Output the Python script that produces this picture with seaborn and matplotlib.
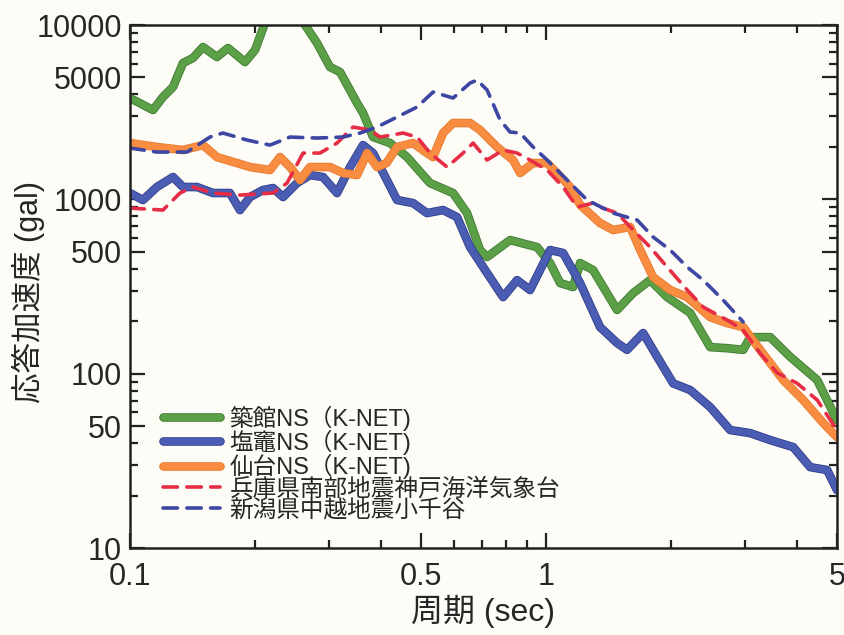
import numpy as np
import pandas as pd
import matplotlib
matplotlib.use("Agg")
import matplotlib.pyplot as plt
import matplotlib.ticker as mticker
import matplotlib.patheffects as pe
import seaborn as sns

# 築館NS (K-NET)
tsukidate_T = [0.100, 0.1136, 0.120, 0.1269, 0.1341, 0.1417, 0.1498, 0.1618, 0.172, 0.189, 0.1998,
               0.2111, 0.235, 0.2606, 0.2815, 0.3025, 0.3198, 0.3513, 0.3632, 0.3838, 0.4217, 0.4633,
               0.526, 0.5976, 0.6457, 0.694, 0.7214, 0.8193, 0.9515, 1.0224, 1.0806, 1.161, 1.207,
               1.297, 1.481, 1.619, 1.778, 1.954, 2.22, 2.479, 2.724, 2.976, 3.094, 3.455, 3.859,
               4.482, 5.0]
tsukidate_A = [3813, 3253, 3864, 4409, 6053, 6467, 7477, 6553, 7380, 6134, 7190,
               10270, 16000, 10400, 7883, 5742, 5375, 3569, 3127, 2277, 2104, 1748,
               1240, 1087, 834, 512, 467, 584, 532, 431, 331, 314, 431,
               393, 232, 290, 344, 275, 223, 142, 140, 137, 162, 162, 125,
               92, 54]

# 塩竈NS (K-NET)
shiogama_T = [0.100, 0.1074, 0.1161, 0.1269, 0.1341, 0.1449, 0.1583, 0.1739, 0.1838, 0.1943, 0.2088,
              0.2208, 0.2333, 0.2521, 0.2708, 0.291, 0.3145, 0.338, 0.3632, 0.3838, 0.4384, 0.4789,
              0.5173, 0.5655, 0.611, 0.6566, 0.7214, 0.7882, 0.8516, 0.9152, 1.0224, 1.0987, 1.207,
              1.348, 1.481, 1.565, 1.711, 1.849, 2.02, 2.22, 2.479, 2.769, 3.094, 3.455, 3.925,
              4.311, 4.737, 5.0]
shiogama_A = [1087, 991, 1177, 1343, 1177, 1177, 1087, 1087, 868, 1031, 1131,
              1161, 1031, 1240, 1378, 1343, 1087, 1532, 2048, 1843, 991, 952,
              834, 868, 791, 532, 378, 275, 344, 302, 512, 492, 331,
              185, 150, 137, 171, 125, 88, 80.5, 64.3, 47.5, 45.6, 41.6, 37.9,
              29.1, 28.0, 21.5]

# 仙台NS (K-NET)
sendai_T = [0.100, 0.1161, 0.1341, 0.1498, 0.1618, 0.1808, 0.1943, 0.2171, 0.2294, 0.2425, 0.2563,
            0.2708, 0.3025, 0.3251, 0.3513, 0.3713, 0.3925, 0.4135, 0.4384, 0.4789, 0.5173, 0.5351,
            0.5655, 0.5976, 0.6566, 0.694, 0.7624, 0.8331, 0.866, 0.9307, 1.0056, 1.0627, 1.142,
            1.207, 1.348, 1.449, 1.592, 1.683, 1.808, 1.987, 2.183, 2.479, 2.724, 2.976, 3.268,
            3.713, 4.148, 4.634, 5.0]
sendai_A = [2104, 1996, 1918, 2048, 1748, 1615, 1532, 1473, 1748, 1532, 1290,
            1532, 1532, 1416, 1378, 1843, 1532, 1615, 1996, 2104, 1843, 1748,
            2401, 2740, 2740, 2498, 1996, 1681, 1416, 1615, 1615, 1416, 1177,
            930, 731, 667, 694, 512, 358, 302, 275, 211, 195, 185, 137,
            92, 70.6, 52.1, 43.3]

# 兵庫県南部地震神戸海洋気象台
kobe_T = [0.100, 0.120, 0.1319, 0.1417, 0.1583, 0.1838, 0.2208, 0.2385, 0.2606, 0.2862, 0.3145,
          0.3436, 0.3775, 0.399, 0.4531, 0.4896, 0.526, 0.5781, 0.6316, 0.6676, 0.7214, 0.7882,
          0.8516, 0.9152, 1.0056, 1.0987, 1.187, 1.297, 1.348, 1.481, 1.619, 1.778, 1.954,
          2.183, 2.385, 2.724, 2.976, 3.268, 3.592, 4.013, 4.482, 5.0]
kobe_A = [891, 868, 1087, 1177, 1087, 1058, 1087, 1240, 1843, 1843, 2104,
          2599, 2498, 2277, 2401, 2277, 1843, 1532, 1843, 2104, 1681, 1918,
          1843, 1681, 1473, 1177, 903, 952, 903, 834, 667, 532, 409,
          302, 241, 203, 178, 131, 101, 88, 70.6, 47.5]

# 新潟県中越地震小千谷
ojiya_T = [0.100, 0.1161, 0.1371, 0.1557, 0.1673, 0.1911, 0.2171, 0.2425, 0.2815, 0.3251, 0.3572,
           0.3925, 0.4384, 0.4896, 0.5351, 0.5976, 0.6566, 0.6825, 0.7214, 0.7752, 0.8193, 0.866,
           0.9307, 1.0056, 1.1232, 1.255, 1.449, 1.655, 1.808, 1.987, 2.183, 2.385, 2.665, 2.976]
ojiya_A = [1969, 1868, 1868, 2277, 2401, 2189, 2048, 2277, 2247, 2277, 2401,
           2599, 2966, 3384, 4127, 3813, 4647, 4836, 4238, 2851, 2433, 2401,
           1996, 1681, 1290, 991, 834, 761, 608, 512, 409, 344, 264, 198]

x_ticks = [0.1, 0.5, 1, 5]
x_labels = ["0.1", "0.5", "1", "5"]
y_ticks = [10, 50, 100, 500, 1000, 5000, 10000]
y_labels = ["10", "50", "100", "500", "1000", "5000", "10000"]

bg = "#fdfcf6"
sns.set_style("ticks")
plt.rcParams['font.family'] = ['Liberation Sans', 'Noto Sans CJK JP']
plt.rcParams['axes.unicode_minus'] = False

fig = plt.figure(figsize=(8.45, 6.35), dpi=100, facecolor=bg)
ax = fig.add_axes([0.1538, 0.137, 0.8367, 0.8236])
ax.set_facecolor(bg)
ax.set_xscale("log")
ax.set_yscale("log")

solid = [
    ("築館NS（K-NET)", tsukidate_T, tsukidate_A, "#5b9f46", "#3e7a33"),
    ("塩竈NS（K-NET)", shiogama_T, shiogama_A, "#4b5db2", "#2f3d8c"),
    ("仙台NS（K-NET)", sendai_T, sendai_A, "#f88d42", "#e8792f"),
]
for name, T, A, col, edge in solid:
    sns.lineplot(x=T, y=A, ax=ax, color=col, lw=5, label=name, sort=False,
                 solid_capstyle="round", solid_joinstyle="round",
                 path_effects=[pe.Stroke(linewidth=6.2, foreground=edge), pe.Normal()])

dashed = [
    ("兵庫県南部地震神戸海洋気象台", kobe_T, kobe_A, "#e62d45"),
    ("新潟県中越地震小千谷", ojiya_T, ojiya_A, "#3d46a3"),
]
for name, T, A, col in dashed:
    sns.lineplot(x=T, y=A, ax=ax, color=col, lw=2.6, label=name, sort=False,
                 linestyle=(0, (4, 2.6)), dash_capstyle="round")

ax.set_xlim(0.1, 5)
ax.set_ylim(10, 10000)

ax.xaxis.set_major_locator(mticker.FixedLocator(x_ticks))
ax.xaxis.set_major_formatter(mticker.FixedFormatter(x_labels))
ax.xaxis.set_minor_locator(mticker.FixedLocator([0.2, 0.3, 0.4, 0.6, 0.7, 0.8, 0.9, 2, 3, 4]))
ax.xaxis.set_minor_formatter(mticker.NullFormatter())
ax.yaxis.set_major_locator(mticker.FixedLocator(y_ticks))
ax.yaxis.set_major_formatter(mticker.FixedFormatter(y_labels))
y_minor = [m * d for d in (10, 100, 1000) for m in (2, 3, 4, 6, 7, 8, 9)]
ax.yaxis.set_minor_locator(mticker.FixedLocator(y_minor))
ax.yaxis.set_minor_formatter(mticker.NullFormatter())

ax.tick_params(which="both", direction="in", top=True, right=True, width=1.6, color="#222222")
ax.tick_params(which="major", length=11, labelsize=22)
ax.tick_params(axis="x", which="major", pad=10)
ax.tick_params(axis="y", which="major", pad=6)
ax.tick_params(which="minor", length=6)
for s in ax.spines.values():
    s.set_linewidth(1.8)
    s.set_color("#222222")

ax.set_xlabel("周期 (sec)", fontsize=23, labelpad=2)
ax.set_ylabel("応答加速度 (gal)", fontsize=22)
ax.yaxis.set_label_coords(-0.12, 0.49)

ax.legend(loc="upper left", bbox_to_anchor=(0.03, 0.295), frameon=False, fontsize=17,
          handlelength=2.4, handletextpad=0.42, labelspacing=-0.05, borderpad=0)

fig.savefig("out.png", dpi=100, facecolor=bg)
